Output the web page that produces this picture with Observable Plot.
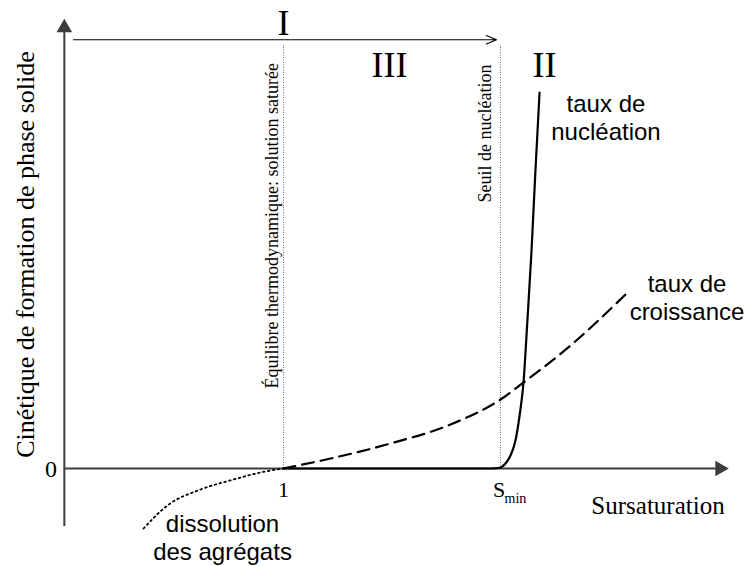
<!DOCTYPE html>
<html>
<head>
<meta charset="utf-8">
<script src="https://cdn.jsdelivr.net/npm/d3@7"></script>
<script src="https://cdn.jsdelivr.net/npm/@observablehq/plot@0.6"></script>
<style>
  html, body { margin: 0; padding: 0; background: #fff; }
  #chart svg { display: block; }
</style>
</head>
<body>
<div id="chart"></div>
<script>
// ---- data ----
// Supersaturation S (x) and formation rate (y, arbitrary units)
const nucleationS    = [1, 1.539, 1.954, 1.991, 2.023, 2.046, 2.069, 2.088, 2.106, 2.124, 2.143, 2.161, 2.180];
const nucleationRate = [0, 0,     0,     0.005, 0.05,  0.13,  0.28,  0.53,  0.86,  1.48,  2.18,  2.98,  3.76];

const growthS    = [1, 1.217, 1.493, 1.770, 2.000, 2.106, 2.323, 2.576];
const growthRate = [0, 0.10,  0.25,  0.44,  0.69,  0.86,  1.23,  1.74];

const dissolutionS    = [0.355, 0.465, 0.618, 0.770, 0.894, 1];
const dissolutionRate = [-0.60, -0.37, -0.21, -0.11, -0.04, 0];

const xTicks = [1, 2];
const xTickLabels = ["1", "S"];
const xTickSub = ["", "min"];
const yTicks = [0];
const yTickLabels = ["0"];

const regionNames = ["I", "III", "II"];
const thresholdLabels = ["Équilibre thermodynamique: solution saturée", "Seuil de nucléation"];
const curveLabels = ["taux de\nnucléation", "taux de\ncroissance", "dissolution\ndes agrégats"];
const xTitle = "Sursaturation";
const yTitle = "Cinétique de formation de phase solide";

// ---- build tables ----
const nucleation = nucleationS.map((s, i) => ({s, r: nucleationRate[i]}));
const growth = growthS.map((s, i) => ({s, r: growthRate[i]}));
const dissolution = dissolutionS.map((s, i) => ({s, r: dissolutionRate[i]}));

const serif = "'Liberation Serif', 'Times New Roman', Times, serif";
const sans = "'Liberation Sans', Arial, Helvetica, sans-serif";
const axisColor = "#3c3c3c";

// layout (in data units)
const xAxisStart = -0.01, xAxisEnd = 2.995, xArrowHead = 3.0106;
const yAxisBottom = -0.58, yAxisTop = 4.36, yArrowHead = 4.407;

const regions = [
  {name: regionNames[0], s: 1.0, r: 4.455},
  {name: regionNames[1], s: 1.4885, r: 4.03},
  {name: regionNames[2], s: 2.2028, r: 4.03}
];
const thresholds = [
  {label: thresholdLabels[0], s: xTicks[0], r: 0.80},
  {label: thresholdLabels[1], s: xTicks[1], r: 2.66}
];
const curveText = [
  {label: curveLabels[0], s: 2.486, r: 3.512},
  {label: curveLabels[1], s: 2.8594, r: 1.715},
  {label: curveLabels[2], s: 0.7189, r: -0.686}
];

const chart = Plot.plot({
  width: 747,
  height: 566,
  margin: 0,
  style: {background: "#fff"},
  x: {domain: [-0.30415, 3.13825], range: [0, 747], axis: null},
  y: {domain: [-0.98, 4.68], range: [566, 0], axis: null},
  marks: [
    // axes
    Plot.ruleY(yTicks, {x1: xAxisStart, x2: xAxisEnd, stroke: axisColor, strokeWidth: 2}),
    Plot.dot(yTicks, {x: xArrowHead, y: d => d, symbol: "triangle", r: 5.8, fill: axisColor, stroke: "none", rotate: 90}),
    Plot.ruleX([xAxisStart], {y1: yAxisBottom, y2: yAxisTop, stroke: axisColor, strokeWidth: 2}),
    Plot.dot([xAxisStart], {x: d => d, y: yArrowHead, symbol: "triangle", r: 5.8, fill: axisColor, stroke: "none"}),
    // top region arrow
    Plot.arrow([0], {x1: 0.0323, y1: 4.287, x2: 1.9816, y2: 4.287, bend: 0, headLength: 15, headAngle: 46, stroke: "black", strokeWidth: 1.1}),
    // threshold dotted lines
    Plot.ruleX(xTicks, {y1: 0, y2: 4.23, stroke: "#666", strokeWidth: 1, strokeDasharray: "1,1.5"}),
    // curves
    Plot.line(dissolution, {x: "s", y: "r", curve: "monotone-x", stroke: "black", strokeWidth: 1.8, strokeDasharray: "1.6,3.4"}),
    Plot.line(growth, {x: "s", y: "r", curve: "monotone-x", stroke: "black", strokeWidth: 2.2, strokeDasharray: "12,7"}),
    Plot.line(nucleation, {x: "s", y: "r", curve: "monotone-x", stroke: "black", strokeWidth: 2.2}),
    // region numerals
    Plot.text(regions, {x: "s", y: "r", text: "name", fontFamily: serif, fontSize: 36, fill: "black"}),
    // rotated threshold labels
    Plot.text(thresholds, {x: "s", y: "r", dx: -11, text: "label", rotate: -90, textAnchor: "start", fontFamily: serif, fontSize: 18, fill: "black", filter: (d, i) => i === 0}),
    Plot.text(thresholds, {x: "s", y: "r", dx: -15, text: "label", rotate: -90, textAnchor: "start", fontFamily: serif, fontSize: 18, fill: "black", filter: (d, i) => i === 1}),
    // y title
    Plot.text([yTitle], {x: -0.189, y: 2.14, text: d => d, rotate: -90, fontFamily: serif, fontSize: 26, fill: "black"}),
    // x title
    Plot.text([xTitle], {x: 2.7258, y: -0.373, text: d => d, fontFamily: serif, fontSize: 25, fill: "black"}),
    // tick labels
    Plot.text(yTickLabels, {x: -0.0714, y: (d, i) => yTicks[i], dy: 1, text: d => d, fontFamily: serif, fontSize: 24, fill: "black"}),
    Plot.text(xTickLabels, {x: (d, i) => xTicks[i], y: -0.21, text: d => d, fontFamily: serif, fontSize: 22, fill: "black", filter: (d, i) => i === 0}),
    Plot.text(xTickLabels, {x: (d, i) => xTicks[i], y: -0.21, dx: -1.5, text: d => d, fontFamily: serif, fontSize: 22, fill: "black", filter: (d, i) => i === 1}),
    Plot.text(xTickSub, {x: (d, i) => xTicks[i], y: -0.30, dx: 4, text: d => d, textAnchor: "start", fontFamily: serif, fontSize: 14, fill: "black", filter: (d, i) => i === 1}),
    // curve labels
    Plot.text(curveText, {x: "s", y: "r", text: "label", lineHeight: 1.146, fontFamily: sans, fontSize: 24, fill: "black"})
  ]
});
document.getElementById("chart").appendChild(chart);
</script>
</body>
</html>
